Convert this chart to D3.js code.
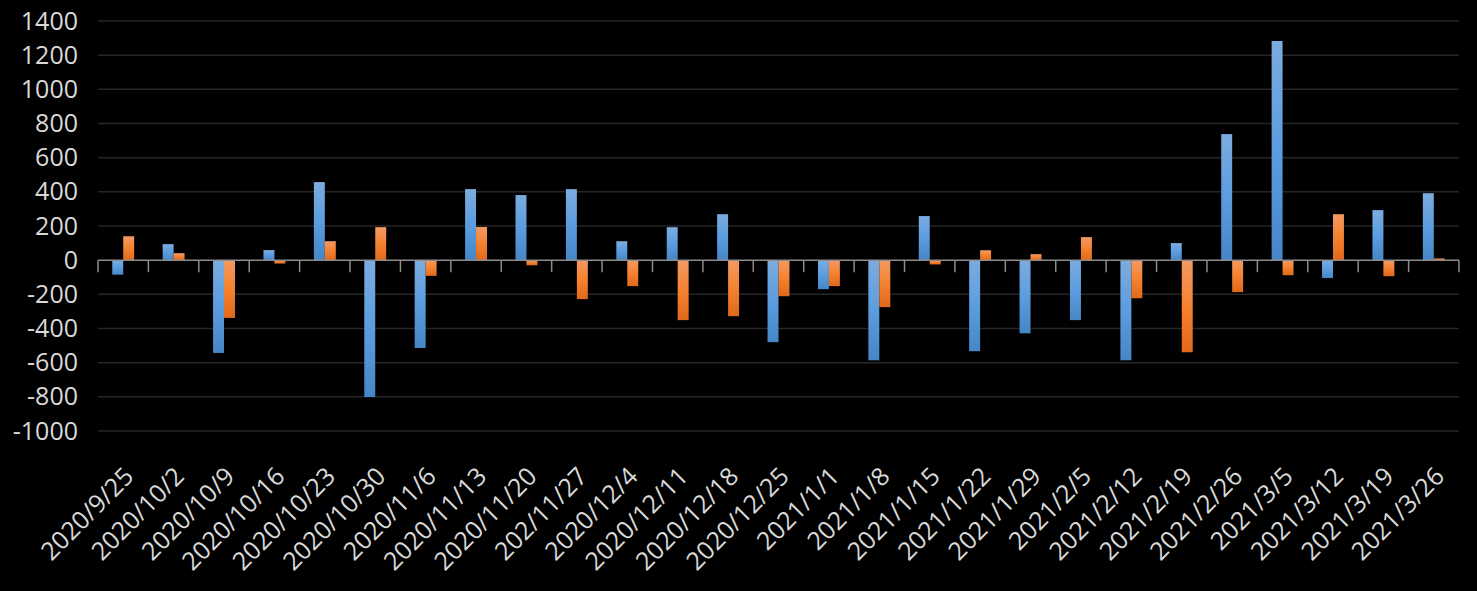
<!DOCTYPE html>
<html>
<head>
<meta charset="utf-8">
<script src="https://cdn.jsdelivr.net/npm/d3@7"></script>
<style>
html, body { margin: 0; padding: 0; background: #000; }
svg { display: block; }
</style>
</head>
<body>
<svg id="chart" width="1477" height="591"></svg>
<script>
const categories = ["2020/9/25","2020/10/2","2020/10/9","2020/10/16","2020/10/23","2020/10/30","2020/11/6","2020/11/13","2020/11/20","202/11/27","2020/12/4","2020/12/11","2020/12/18","2020/12/25","2021/1/1","2021/1/8","2021/1/15","2021/1/22","2021/1/29","2021/2/5","2021/2/12","2021/2/19","2021/2/26","2021/3/5","2021/3/12","2021/3/19","2021/3/26"];
const seriesBlue   = [-85, 94, -543, 59, 457, -801, -514, 416, 381, 416, 111, 193, 269, -480, -170, -586, 258, -533, -428, -351, -586, 100, 738, 1283, -105, 293, 392];
const seriesOrange = [140, 41, -338, -20, 111, 193, -92, 194, -30, -228, -152, -351, -328, -211, -152, -275, -25, 58, 35, 135, -223, -539, -187, -88, 269, -94, 10];
const yTicks = [-1000,-800,-600,-400,-200,0,200,400,600,800,1000,1200,1400];
const seriesNames = ["blue","orange"];

const svg = d3.select("#chart");
const margin = {left: 98, right: 1459, top: 21, bottom: 431};

const x = d3.scaleBand().domain(categories).range([margin.left, margin.right]).paddingInner(0).paddingOuter(0);
const x1 = d3.scaleBand().domain(seriesNames).range([0, x.bandwidth()]).paddingInner(0).paddingOuter(1.3);
const y = d3.scaleLinear().domain([-1000, 1400]).range([margin.bottom, margin.top]);

// gradients
const defs = svg.append("defs");
const grads = {
  blue: [["0%","#7cacdf"],["50%","#5b9ddf"],["100%","#4686c6"]],
  orange: [["0%","#f39a64"],["50%","#f5822f"],["100%","#e0691c"]]
};
Object.entries(grads).forEach(([k, stops]) => {
  const g = defs.append("linearGradient").attr("id", "g-" + k).attr("x1", 0).attr("y1", 0).attr("x2", 0).attr("y2", 1);
  stops.forEach(s => g.append("stop").attr("offset", s[0]).attr("stop-color", s[1]));
});

// gridlines
svg.append("g").selectAll("line").data(yTicks.filter(d => d !== 0)).join("line")
  .attr("x1", margin.left).attr("x2", margin.right)
  .attr("y1", d => y(d)).attr("y2", d => y(d))
  .attr("stroke", "#262626").attr("stroke-width", 1.5);

// y axis labels
const yAxis = d3.axisLeft(y).tickValues(yTicks).tickSize(0).tickPadding(20).tickFormat(d => String(d));
const yg = svg.append("g").attr("transform", `translate(${margin.left},0)`).call(yAxis);
yg.select(".domain").remove();
yg.selectAll("text").attr("fill", "#d9d9d9").style("font-family", "'Open Sans', sans-serif").style("font-size", "25px");

// bars
const data = categories.map((c, i) => ({c, blue: seriesBlue[i], orange: seriesOrange[i]}));
const groups = svg.append("g").selectAll("g").data(data).join("g")
  .attr("transform", d => `translate(${x(d.c)},0)`);
groups.selectAll("rect").data(d => seriesNames.map(k => ({k, v: d[k]}))).join("rect")
  .attr("x", d => x1(d.k))
  .attr("width", x1.bandwidth())
  .attr("y", d => Math.min(y(d.v), y(0)))
  .attr("height", d => Math.abs(y(d.v) - y(0)))
  .attr("fill", d => `url(#g-${d.k})`);

// zero axis with ticks
const xg = svg.append("g").attr("transform", `translate(0,${y(0)})`);
xg.append("line").attr("x1", margin.left).attr("x2", margin.right).attr("y1", 0).attr("y2", 0)
  .attr("stroke", "#8c8c8c").attr("stroke-width", 1.5);
const boundaries = categories.map(c => x(c)).concat([x.range()[1]]);
xg.selectAll("line.tk").data(boundaries).join("line").attr("class", "tk")
  .attr("x1", d => d).attr("x2", d => d).attr("y1", 0).attr("y2", 12)
  .attr("stroke", "#8c8c8c").attr("stroke-width", 1.5);

// x labels
svg.append("g").selectAll("text").data(categories).join("text")
  .attr("transform", d => `translate(${x(d) + x.bandwidth()/2 + 12},478) rotate(-45)`)
  .attr("text-anchor", "end")
  .attr("fill", "#d9d9d9")
  .style("font-family", "'Open Sans', sans-serif")
  .style("font-size", "25px")
  .text(d => d);
</script>
</body>
</html>
